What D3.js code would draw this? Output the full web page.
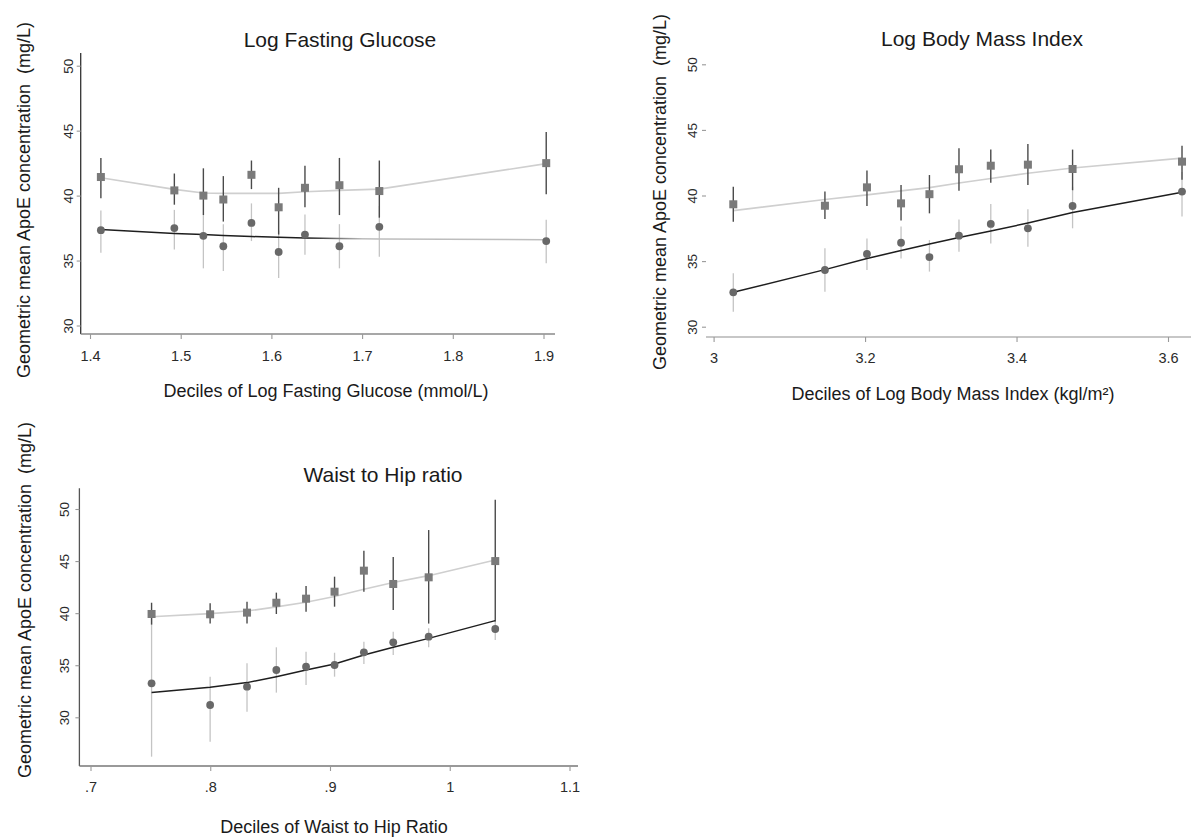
<!DOCTYPE html>
<html>
<head>
<meta charset="utf-8">
<script src="https://cdn.jsdelivr.net/npm/d3@7"></script>
<style>
  html, body { margin: 0; padding: 0; background: #ffffff; }
  svg { display: block; font-family: "Liberation Sans", Arial, Helvetica, sans-serif; }
  .ttl { white-space: pre; }
</style>
</head>
<body>
<svg id="chart" width="1194" height="837"></svg>
<script>
// ---------- Panel 1: Log Fasting Glucose ----------
const glucoseX      = [1.412, 1.493, 1.525, 1.547, 1.578, 1.608, 1.637, 1.675, 1.719, 1.903];
const glucoseSq     = [41.43, 40.4, 40.0, 39.7, 41.6, 39.1, 40.6, 40.8, 40.35, 42.5];
const glucoseSqLo   = [39.8, 39.3, 38.5, 38.0, 40.5, 37.0, 39.1, 38.5, 38.3, 40.1];
const glucoseSqHi   = [42.9, 41.7, 42.1, 41.5, 42.7, 40.6, 42.3, 42.9, 42.7, 44.9];
const glucoseSqFit  = [41.38, 40.48, 40.2, 40.17, 40.17, 40.17, 40.3, 40.4, 40.5, 42.46];
const glucoseCi     = [37.34, 37.5, 36.9, 36.1, 37.9, 35.66, 37.0, 36.1, 37.6, 36.5];
const glucoseCiLo   = [35.6, 35.85, 34.4, 34.2, 36.5, 33.65, 35.45, 34.4, 35.3, 34.8];
const glucoseCiHi   = [38.86, 38.9, 38.5, 37.8, 39.4, 37.3, 38.55, 37.8, 39.2, 38.15];
const glucoseCiFit  = [37.39, 37.08, 37.0, 36.92, 36.85, 36.8, 36.74, 36.69, 36.66, 36.6];
const glucoseXTicks = [1.4, 1.5, 1.6, 1.7, 1.8, 1.9];
const glucoseXTickLabels = ["1.4", "1.5", "1.6", "1.7", "1.8", "1.9"];

// ---------- Panel 2: Log Body Mass Index ----------
const bmiX      = [3.026, 3.147, 3.2025, 3.2475, 3.285, 3.324, 3.366, 3.415, 3.474, 3.6185];
const bmiSq     = [39.33, 39.22, 40.62, 39.4, 40.1, 42.0, 42.27, 42.35, 42.02, 42.58];
const bmiSqLo   = [38.0, 38.2, 39.2, 38.1, 38.64, 40.37, 40.98, 40.8, 40.4, 41.2];
const bmiSqHi   = [40.67, 40.3, 41.9, 40.8, 41.56, 43.6, 43.5, 43.93, 43.5, 43.8];
const bmiSqFit  = [38.85, 39.7, 40.05, 40.35, 40.6, 40.95, 41.3, 41.7, 42.1, 42.85];
const bmiCi     = [32.62, 34.32, 35.54, 36.4, 35.31, 36.94, 37.83, 37.5, 39.2, 40.3];
const bmiCiLo   = [31.14, 32.67, 34.32, 35.2, 34.2, 35.72, 36.35, 36.1, 37.5, 38.4];
const bmiCiHi   = [34.07, 35.97, 36.73, 37.63, 36.6, 38.18, 39.35, 38.95, 40.67, 41.8];
const bmiCiFit  = [32.62, 34.35, 35.2, 35.8, 36.3, 36.8, 37.3, 37.9, 38.7, 40.25];
const bmiXTicks = [3, 3.2, 3.4, 3.6];
const bmiXTickLabels = ["3", "3.2", "3.4", "3.6"];

// ---------- Panel 3: Waist to Hip ratio ----------
const whrX      = [0.751, 0.7999, 0.8307, 0.8552, 0.880, 0.9038, 0.9283, 0.9528, 0.9824, 1.038];
const whrSq     = [39.92, 39.89, 40.05, 41.0, 41.39, 42.06, 44.08, 42.8, 43.44, 45.0];
const whrSqLo   = [38.9, 39.0, 39.0, 39.92, 40.14, 40.62, 42.06, 40.3, 39.0, 39.2];
const whrSqHi   = [41.0, 40.94, 41.1, 41.97, 42.6, 43.5, 46.0, 45.4, 47.98, 50.9];
const whrSqFit  = [39.66, 39.95, 40.2, 40.6, 41.05, 41.6, 42.3, 42.95, 43.6, 45.1];
const whrCi     = [33.26, 31.18, 32.94, 34.54, 34.86, 35.02, 36.24, 37.2, 37.74, 38.48];
const whrCiLo   = [26.22, 27.66, 30.54, 32.37, 33.1, 33.9, 35.12, 35.98, 36.72, 37.42];
const whrCiHi   = [39.66, 33.9, 35.18, 36.72, 36.3, 36.2, 37.26, 38.22, 38.54, 39.3];
const whrCiFit  = [32.37, 32.88, 33.33, 33.9, 34.54, 35.12, 35.98, 36.72, 37.58, 39.28];
const whrXTicks = [0.7, 0.8, 0.9, 1.0, 1.1];
const whrXTickLabels = [".7", ".8", ".9", "1", "1.1"];

const yTicks = [30, 35, 40, 45, 50];
const yTickLabels = ["30", "35", "40", "45", "50"];
const yLabel = "Geometric mean ApoE concentration  (mg/L)";

const svg = d3.select("#chart");
const defs = svg.append("defs");

const panels = [
  {
    title: "Log Fasting Glucose", xlab: "Deciles of Log Fasting Glucose (mmol/L)",
    x: glucoseX, sq: glucoseSq, sqLo: glucoseSqLo, sqHi: glucoseSqHi, sqFit: glucoseSqFit,
    ci: glucoseCi, ciLo: glucoseCiLo, ciHi: glucoseCiHi, ciFit: glucoseCiFit,
    xTicks: glucoseXTicks, xTickLabels: glucoseXTickLabels,
    xDom: [1.4, 1.9], xRange: [90, 543.5], yRange: [325.5, 65.7],
    frame: { left: 80.7, right: 555, top: 53, bottom: 334 },
    yAxisLine: true, yAxisColor: "#333", xAxisColor: "#8a8a8a",
    yTickLabX: 73, xTickLabY: 360.7,
    titlePos: [340, 47], xlabPos: [326, 397.3], ylabPos: [30, 200],
    fade: [1.64, 1.70]
  },
  {
    title: "Log Body Mass Index", xlab: "Deciles of Log Body Mass Index (kgl/m\u00B2)",
    x: bmiX, sq: bmiSq, sqLo: bmiSqLo, sqHi: bmiSqHi, sqFit: bmiSqFit,
    ci: bmiCi, ciLo: bmiCiLo, ciHi: bmiCiHi, ciFit: bmiCiFit,
    xTicks: bmiXTicks, xTickLabels: bmiXTickLabels,
    xDom: [3, 3.6], xRange: [713.6, 1168], yRange: [326.7, 64.3],
    frame: { left: 706, right: 1191, top: 50, bottom: 337 },
    yAxisLine: false, yAxisColor: "#333", xAxisColor: "#b5b5b5",
    yTickLabX: 696.5, xTickLabY: 363,
    titlePos: [982, 46], xlabPos: [953, 400], ylabPos: [666, 192],
    fade: null
  },
  {
    title: "Waist to Hip ratio", xlab: "Deciles of Waist to Hip Ratio",
    x: whrX, sq: whrSq, sqLo: whrSqLo, sqHi: whrSqHi, sqFit: whrSqFit,
    ci: whrCi, ciLo: whrCiLo, ciHi: whrCiHi, ciFit: whrCiFit,
    xTicks: whrXTicks, xTickLabels: whrXTickLabels,
    xDom: [0.7, 1.1], xRange: [90.5, 569.5], yRange: [717.3, 509],
    frame: { left: 79.4, right: 578, top: 488.3, bottom: 766 },
    yAxisLine: true, yAxisColor: "#555", xAxisColor: "#777",
    yTickLabX: 69, xTickLabY: 791.7,
    titlePos: [383, 482], xlabPos: [334, 833], ylabPos: [31, 600],
    fade: null
  }
];

panels.forEach((p, pi) => {
  const g = svg.append("g");
  const xs = d3.scaleLinear().domain(p.xDom).range(p.xRange);
  const ys = d3.scaleLinear().domain([30, 50]).range(p.yRange);
  const f = p.frame;

  // axis lines
  if (p.yAxisLine) {
    g.append("line").attr("x1", f.left).attr("x2", f.left).attr("y1", f.top).attr("y2", f.bottom)
      .attr("stroke", p.yAxisColor).attr("stroke-width", 1.3);
  }
  g.append("line").attr("x1", f.left).attr("x2", f.right).attr("y1", f.bottom).attr("y2", f.bottom)
    .attr("stroke", p.xAxisColor).attr("stroke-width", 1.3);

  // x axis ticks
  const xAxis = d3.axisBottom(xs).tickValues(p.xTicks).tickSize(5)
    .tickFormat((d, i) => p.xTickLabels[i]);
  const xg = g.append("g").attr("transform", `translate(0,${f.bottom})`).call(xAxis);
  xg.select(".domain").remove();
  xg.selectAll(".tick line").attr("stroke", "#999").attr("stroke-width", 1.1);
  xg.selectAll(".tick text").attr("y", p.xTickLabY - f.bottom).attr("dy", 0)
    .attr("fill", "#2a2a2a").style("font-size", "14.5px")
    .style("font-family", '"Liberation Sans", Arial, sans-serif');

  // y axis ticks
  const yAxis = d3.axisLeft(ys).tickValues(yTicks).tickSize(4)
    .tickFormat((d, i) => yTickLabels[i]);
  const yg = g.append("g").attr("transform", `translate(${f.left},0)`).call(yAxis);
  yg.select(".domain").remove();
  yg.selectAll(".tick line").attr("stroke", "#999").attr("stroke-width", 1.1);
  yg.selectAll(".tick text")
    .attr("x", null).attr("dy", null)
    .attr("text-anchor", "middle")
    .attr("transform", `translate(${p.yTickLabX - f.left},0) rotate(-90)`)
    .attr("fill", "#2a2a2a").style("font-size", "13.5px")
    .style("font-family", '"Liberation Sans", Arial, sans-serif');

  const idx = d3.range(p.x.length);

  // error bars for circles (light)
  g.append("g").selectAll("line").data(idx).join("line")
    .attr("x1", i => xs(p.x[i])).attr("x2", i => xs(p.x[i]))
    .attr("y1", i => ys(p.ciLo[i])).attr("y2", i => ys(p.ciHi[i]))
    .attr("stroke", "#c4c4c4").attr("stroke-width", 1.3);

  // fitted line for squares (light)
  const line = d3.line().x(d => xs(d[0])).y(d => ys(d[1]));
  g.append("path").datum(idx.map(i => [p.x[i], p.sqFit[i]])).attr("d", line)
    .attr("fill", "none").attr("stroke", "#cfcfcf").attr("stroke-width", 1.6);

  // error bars for squares (dark)
  g.append("g").selectAll("line").data(idx).join("line")
    .attr("x1", i => xs(p.x[i])).attr("x2", i => xs(p.x[i]))
    .attr("y1", i => ys(p.sqLo[i])).attr("y2", i => ys(p.sqHi[i]))
    .attr("stroke", "#4a4a4a").attr("stroke-width", 1.4);

  // fitted line for circles (dark, optionally fading)
  let stroke = "#1e1e1e";
  if (p.fade) {
    const id = "fade" + pi;
    const lg = defs.append("linearGradient").attr("id", id)
      .attr("gradientUnits", "userSpaceOnUse")
      .attr("x1", xs(p.fade[0])).attr("x2", xs(p.fade[1])).attr("y1", 0).attr("y2", 0);
    lg.append("stop").attr("offset", 0).attr("stop-color", "#1e1e1e");
    lg.append("stop").attr("offset", 1).attr("stop-color", "#bdbdbd");
    stroke = `url(#${id})`;
  }
  g.append("path").datum(idx.map(i => [p.x[i], p.ciFit[i]])).attr("d", line)
    .attr("fill", "none").attr("stroke", stroke).attr("stroke-width", 1.5);

  // markers
  const s = 8;
  g.append("g").selectAll("rect").data(idx).join("rect")
    .attr("x", i => xs(p.x[i]) - s / 2).attr("y", i => ys(p.sq[i]) - s / 2)
    .attr("width", s).attr("height", s).attr("fill", "#7a7a7a");
  g.append("g").selectAll("circle").data(idx).join("circle")
    .attr("cx", i => xs(p.x[i])).attr("cy", i => ys(p.ci[i]))
    .attr("r", 3.9).attr("fill", "#686868");

  // texts
  g.append("text").attr("x", p.titlePos[0]).attr("y", p.titlePos[1])
    .attr("text-anchor", "middle").attr("fill", "#1a1a1a").style("font-size", "21px")
    .text(p.title);
  g.append("text").attr("x", p.xlabPos[0]).attr("y", p.xlabPos[1])
    .attr("text-anchor", "middle").attr("fill", "#1a1a1a").style("font-size", "18px")
    .text(p.xlab);
  g.append("text").attr("class", "ttl")
    .attr("transform", `translate(${p.ylabPos[0]},${p.ylabPos[1]}) rotate(-90)`)
    .attr("text-anchor", "middle").attr("fill", "#1a1a1a").style("font-size", "18px")
    .text(yLabel);
});
</script>
</body>
</html>
